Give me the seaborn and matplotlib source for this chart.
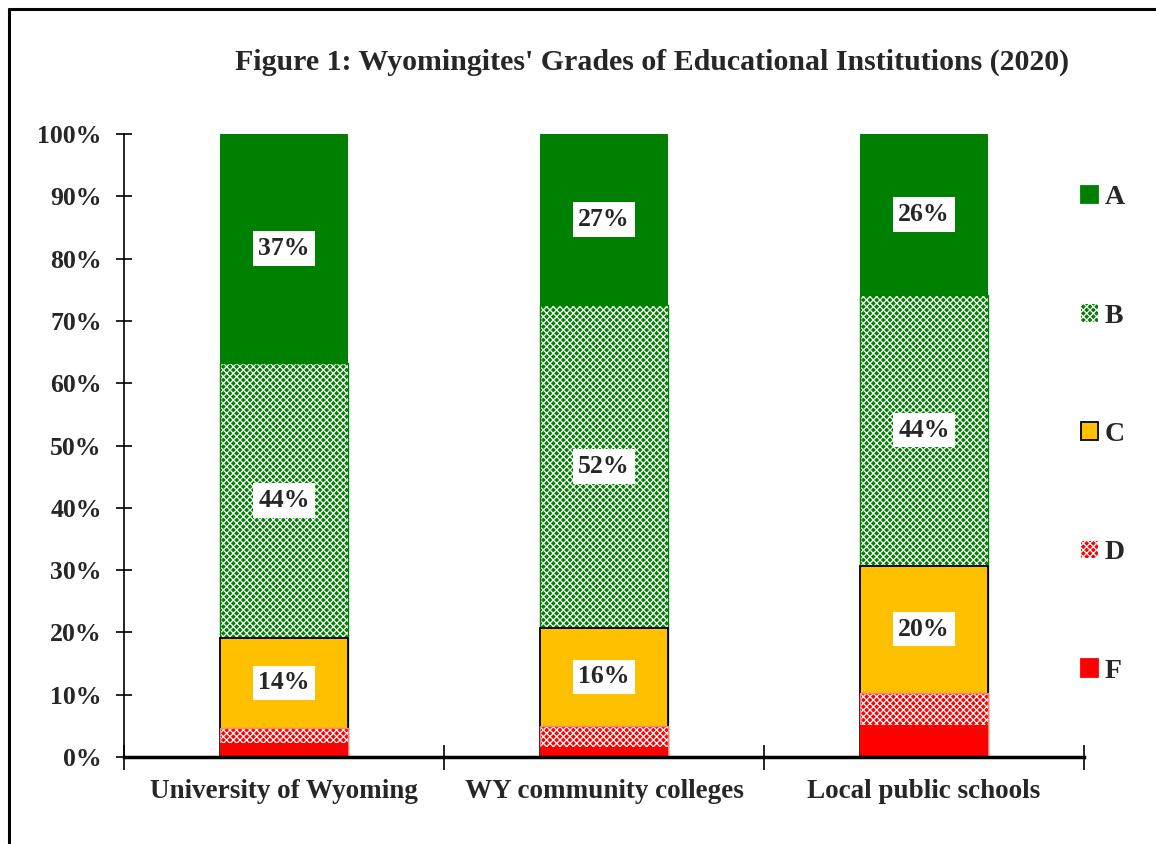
"""Stacked bar chart of Wyomingites' grades of educational institutions (2020)."""

import matplotlib.pyplot as plt
import pandas as pd
import seaborn as sns
from matplotlib.lines import Line2D
from matplotlib.patches import Patch
from matplotlib.ticker import FixedLocator

# Data (percent of respondents)
institutions = ["University of Wyoming", "WY community colleges", "Local public schools"]
grades = ["A", "B", "C", "D", "F"]
grade_a = [36.8, 27.4, 25.8]
grade_b = [44.1, 51.9, 43.5]
grade_c = [14.4, 15.7, 20.4]
grade_d = [2.5, 3.4, 5.2]
grade_f = [2.2, 1.6, 5.1]
shown_labels = {"A": ["37%", "27%", "26%"], "B": ["44%", "52%", "44%"], "C": ["14%", "16%", "20%"]}

GREEN = "#008000"
ORANGE = "#FFC000"
RED = "#FF0000"
styles = {
    "A": dict(face=GREEN, edge="none", hatch=None),
    "B": dict(face=GREEN, edge=GREEN, hatch="xxxxx"),
    "C": dict(face=ORANGE, edge="black", hatch=None),
    "D": dict(face=RED, edge="#FF8080", hatch="xxxxx"),
    "F": dict(face=RED, edge="none", hatch=None),
}

sns.set_theme(style="white")
plt.rcParams["font.family"] = ["Liberation Serif", "DejaVu Serif"]
plt.rcParams["font.weight"] = "bold"
plt.rcParams["hatch.linewidth"] = 0.9

df = pd.DataFrame(
    {"institution": institutions, "A": grade_a, "B": grade_b, "C": grade_c, "D": grade_d, "F": grade_f}
)
# cumulative tops, drawn from the tallest layer (A) down to F
cum = df[grades[::-1]].cumsum(axis=1)

fig = plt.figure(figsize=(11.56, 8.44), dpi=100)
ax = fig.add_axes([0.1073, 0.1031, 0.8304, 0.7381])

for g in grades:
    st = styles[g]
    if st["hatch"]:
        n0 = len(ax.patches)
        sns.barplot(x=df["institution"], y=cum[g], color=st["face"], saturation=1,
                    width=0.4, errorbar=None, ax=ax, linewidth=0)
        for p in ax.patches[n0:]:
            p.set_hatch(st["hatch"])
            p.set_edgecolor("white")
            p.set_linewidth(0)
        sns.barplot(x=df["institution"], y=cum[g], color=st["face"], saturation=1,
                    width=0.4, errorbar=None, ax=ax, fill=False,
                    edgecolor=st["edge"], linewidth=1.0)
    else:
        sns.barplot(x=df["institution"], y=cum[g], color=st["face"], saturation=1,
                    width=0.4, errorbar=None, ax=ax, edgecolor=st["edge"],
                    linewidth=1.3 if st["edge"] != "none" else 0)

# value labels in white boxes at the centre of each segment
bottoms = cum.shift(1, axis=1).fillna(0)
for g, labels in shown_labels.items():
    for i, lab in enumerate(labels):
        mid = bottoms[g].iloc[i] + df[g].iloc[i] / 2
        ax.text(i, mid, lab, ha="center", va="center", fontsize=18.5, fontweight="bold",
                bbox=dict(boxstyle="square,pad=0.22", fc="white", ec="none"))

ax.set_xlim(-0.5, 2.5)
ax.set_ylim(0, 100)
ax.set_yticks(range(0, 101, 10))
ax.set_yticklabels([f"{v}%" for v in range(0, 101, 10)])
ax.set_xlabel("")
ax.set_ylabel("")
ax.xaxis.set_minor_locator(FixedLocator([-0.5, 0.5, 1.5, 2.5]))
ax.tick_params(axis="x", which="major", length=0, pad=16, labelsize=19.5)
ax.tick_params(axis="x", which="minor", direction="inout", length=18, width=1.2, color="black",
               bottom=True)
ax.tick_params(axis="y", direction="inout", length=12, width=1.2, color="black", left=True,
               pad=10, labelsize=18.5)
for lab in ax.get_xticklabels() + ax.get_yticklabels():
    lab.set_fontweight("bold")

sns.despine(ax=ax)
ax.spines["left"].set_color("black")
ax.spines["left"].set_linewidth(1.2)
ax.spines["bottom"].set_color("black")
ax.spines["bottom"].set_linewidth(2.5)
ax.grid(False)

ax.set_title("Figure 1: Wyomingites' Grades of Educational Institutions (2020)",
             fontsize=21.5, fontweight="bold", pad=46, x=0.55)

handles = []
for g in grades:
    st = styles[g]
    if st["hatch"]:
        handles.append(Patch(facecolor=st["face"], edgecolor="white", hatch=st["hatch"], lw=0))
    else:
        handles.append(Patch(facecolor=st["face"], edgecolor=st["edge"] if st["edge"] != "none" else st["face"],
                             lw=1.3))
fig.legend(handles, grades, loc="upper left", bbox_to_anchor=(0.923, 0.797), frameon=False,
           prop=dict(size=20, weight="bold"), handlelength=0.6, handleheight=0.6,
           handletextpad=0.25, labelspacing=3.36, borderpad=0)

# frame around the figure (left and top visible in the reference)
fig.add_artist(Line2D([0.0075, 0.0075], [0, 0.989], color="black", lw=2.2, transform=fig.transFigure))
fig.add_artist(Line2D([0.0075, 1.0], [0.989, 0.989], color="black", lw=2.2, transform=fig.transFigure))

fig.savefig("out.png", dpi=100)
